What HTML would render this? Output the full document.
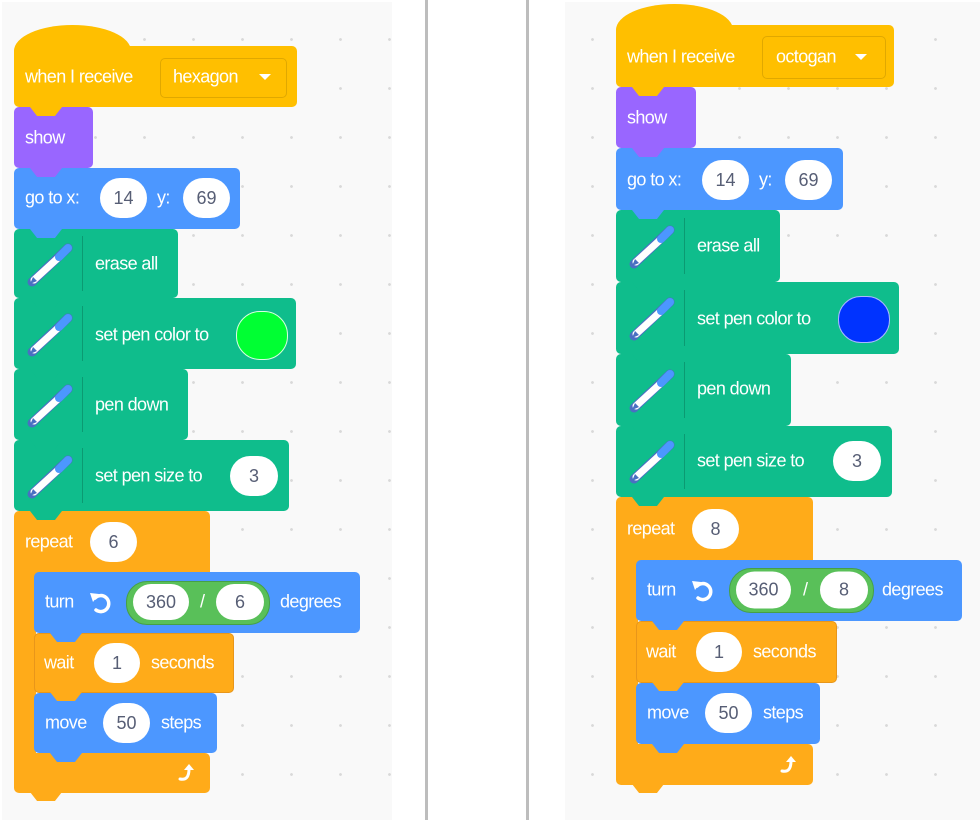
<!DOCTYPE html>
<html><head><meta charset="utf-8"><style>
html,body{margin:0;padding:0}
body{width:980px;height:820px;position:relative;overflow:hidden;background:#fff;font-family:"Liberation Sans",sans-serif}
.panel{position:absolute;background-color:#f9f9f9;background-image:radial-gradient(circle,#d9d9d9 1.2px,transparent 1.6px);background-size:49px 49px}
.vl{position:absolute;top:0;width:3px;height:820px;background:#bdbdbd}
.b{position:absolute;border-radius:5px}
.tab{position:absolute;width:32px;height:9px;clip-path:polygon(0 0,100% 0,78% 100%,22% 100%);z-index:3}
.t{position:absolute;color:#fff;font-size:18px;letter-spacing:-0.6px;transform:translateY(-50%);white-space:nowrap;z-index:4}
.o{position:absolute;background:#fff;border-radius:20px;height:40px;color:#575e75;text-align:center;line-height:40px;font-size:18px;transform:translateY(-50%);z-index:4}
.sep{position:absolute;width:1px;background:#0b9a72}
svg{z-index:4}
.Y{background:#ffbf00}.P{background:#9966ff}.B{background:#4c97ff}.G{background:#0fbd8c}.O{background:#ffab19}.GR{background:#59c059}
</style></head><body>
<div class="panel" style="left:2px;top:2px;width:390px;height:818px;background-position:20px 13px"></div>
<div class="vl" style="left:425px"></div>
<div class="vl" style="left:526px"></div>
<div class="panel" style="left:565px;top:2px;width:415px;height:818px;background-position:3px 13px"></div>

<svg width="0" height="0" style="position:absolute">
<defs>
<g id="pen"><line x1="8" y1="42" x2="44" y2="8" stroke="#4a6fc2" stroke-width="9" stroke-linecap="round"/><line x1="10" y1="40" x2="34" y2="18" stroke="#fff" stroke-width="7" stroke-linecap="round"/><line x1="35" y1="17" x2="44" y2="8" stroke="#4c97ff" stroke-width="8" stroke-linecap="round"/><path d="M6 44 L9 37 L13 41 Z" fill="#4a6fc2"/></g>
<g id="turn"><path d="M7 8 A8 8 0 1 1 8 20" fill="none" stroke="#fff" stroke-width="3.5" stroke-linecap="round"/><path d="M2 3 L11 4 L5 12 Z" fill="#fff"/></g>
<g id="loop"><path d="M3 16 Q12 18 12 6" fill="none" stroke="#fff" stroke-width="3" stroke-linecap="round"/><path d="M7 7 L12 1 L17 7 Z" fill="#fff"/></g>
</defs></svg>

<!-- ================= LEFT ================= -->
<div class="b Y" style="left:14px;top:25px;width:117px;height:60px;border-radius:58px 58px 0 0/26px 26px 0 0"></div>
<div class="b Y" style="left:14px;top:46px;width:283px;height:61px"></div>
<div class="tab Y" style="left:30px;top:107px"></div>
<div class="t" style="left:25px;top:77px">when I receive</div>
<div class="b" style="left:160px;top:58px;width:125px;height:38px;border:1px solid #e0a800;border-radius:5px"></div>
<div class="t" style="left:173px;top:77px">hexagon</div>
<svg style="position:absolute;left:259px;top:73px" width="12" height="8"><path d="M0 1 L12 1 L6 7 Z" fill="#fff"/></svg>

<div class="b P" style="left:14px;top:107px;width:79px;height:61px"></div>
<div class="tab P" style="left:30px;top:168px"></div>
<div class="t" style="left:25px;top:138px">show</div>

<div class="b B" style="left:14px;top:168px;width:226px;height:61px"></div>
<div class="tab B" style="left:30px;top:229px"></div>
<div class="t" style="left:25px;top:198px">go to x:</div>
<div class="o" style="left:100px;top:198px;width:47px">14</div>
<div class="t" style="left:157px;top:198px">y:</div>
<div class="o" style="left:183px;top:198px;width:47px">69</div>

<div class="b G" style="left:14px;top:229px;width:164px;height:69px"></div>
<div class="tab G" style="left:30px;top:298px"></div>
<div class="sep" style="left:82px;top:236px;height:55px"></div>
<svg style="position:absolute;left:24px;top:240px" width="50" height="50"><use href="#pen"/></svg>
<div class="t" style="left:95px;top:264px">erase all</div>

<div class="b G" style="left:14px;top:298px;width:282px;height:71px"></div>
<div class="tab G" style="left:30px;top:369px"></div>
<div class="sep" style="left:82px;top:306px;height:55px"></div>
<svg style="position:absolute;left:24px;top:310px" width="50" height="50"><use href="#pen"/></svg>
<div class="t" style="left:95px;top:335px">set pen color to</div>
<div class="b" style="left:236px;top:311px;width:50px;height:47px;border-radius:24px;background:#00ff33;border:1px solid #d8ffe0"></div>

<div class="b G" style="left:14px;top:369px;width:174px;height:71px"></div>
<div class="tab G" style="left:30px;top:440px"></div>
<div class="sep" style="left:82px;top:377px;height:55px"></div>
<svg style="position:absolute;left:24px;top:381px" width="50" height="50"><use href="#pen"/></svg>
<div class="t" style="left:95px;top:405px">pen down</div>

<div class="b G" style="left:14px;top:440px;width:275px;height:71px"></div>
<div class="tab G" style="left:30px;top:511px"></div>
<div class="sep" style="left:82px;top:448px;height:55px"></div>
<svg style="position:absolute;left:24px;top:452px" width="50" height="50"><use href="#pen"/></svg>
<div class="t" style="left:95px;top:476px">set pen size to</div>
<div class="o" style="left:230px;top:476px;width:48px">3</div>

<div class="b O" style="left:14px;top:511px;width:196px;height:66px"></div>
<div class="b O" style="left:14px;top:560px;width:22px;height:200px;border-radius:0"></div>
<div class="b O" style="left:14px;top:753px;width:196px;height:40px"></div>
<div class="tab O" style="left:30px;top:792px"></div>
<div class="t" style="left:25px;top:542px">repeat</div>
<div class="o" style="left:90px;top:542px;width:47px">6</div>
<svg style="position:absolute;left:177px;top:763px" width="20" height="20"><use href="#loop"/></svg>

<div class="b B" style="left:34px;top:572px;width:326px;height:61px"></div>
<div class="tab B" style="left:50px;top:633px"></div>
<div class="t" style="left:45px;top:602px">turn</div>
<svg style="position:absolute;left:88px;top:590px" width="26" height="26"><use href="#turn"/></svg>
<div class="b GR" style="left:126px;top:581px;width:142px;height:42px;border-radius:21px;border:1px solid #46a046"></div>
<div class="o" style="left:133px;top:602px;width:56px;height:36px;line-height:36px">360</div>
<div class="t" style="left:200px;top:602px">/</div>
<div class="o" style="left:216px;top:602px;width:48px;height:36px;line-height:36px">6</div>
<div class="t" style="left:280px;top:602px">degrees</div>

<div class="b O" style="left:34px;top:633px;width:200px;height:60px;border:1px solid #e8961a;box-sizing:border-box"></div>
<div class="tab O" style="left:50px;top:692px"></div>
<div class="t" style="left:44px;top:663px">wait</div>
<div class="o" style="left:94px;top:663px;width:46px">1</div>
<div class="t" style="left:151px;top:663px">seconds</div>

<div class="b B" style="left:34px;top:693px;width:183px;height:60px"></div>
<div class="tab B" style="left:50px;top:753px"></div>
<div class="t" style="left:45px;top:723px">move</div>
<div class="o" style="left:103px;top:723px;width:47px">50</div>
<div class="t" style="left:161px;top:723px">steps</div>

<!-- ================= RIGHT ================= -->
<div class="b Y" style="left:616px;top:4px;width:117px;height:60px;border-radius:58px 58px 0 0/26px 26px 0 0"></div>
<div class="b Y" style="left:616px;top:25px;width:278px;height:62px"></div>
<div class="tab Y" style="left:632px;top:87px"></div>
<div class="t" style="left:627px;top:57px">when I receive</div>
<div class="b" style="left:762px;top:36px;width:122px;height:41px;border:1px solid #e0a800;border-radius:5px"></div>
<div class="t" style="left:776px;top:57px">octogan</div>
<svg style="position:absolute;left:855px;top:53px" width="12" height="8"><path d="M0 1 L12 1 L6 7 Z" fill="#fff"/></svg>

<div class="b P" style="left:616px;top:87px;width:80px;height:61px"></div>
<div class="tab P" style="left:632px;top:148px"></div>
<div class="t" style="left:627px;top:118px">show</div>

<div class="b B" style="left:616px;top:148px;width:227px;height:62px"></div>
<div class="tab B" style="left:632px;top:210px"></div>
<div class="t" style="left:627px;top:180px">go to x:</div>
<div class="o" style="left:702px;top:180px;width:47px">14</div>
<div class="t" style="left:759px;top:180px">y:</div>
<div class="o" style="left:785px;top:180px;width:47px">69</div>

<div class="b G" style="left:616px;top:210px;width:164px;height:72px"></div>
<div class="tab G" style="left:632px;top:282px"></div>
<div class="sep" style="left:684px;top:218px;height:56px"></div>
<svg style="position:absolute;left:626px;top:222px" width="50" height="50"><use href="#pen"/></svg>
<div class="t" style="left:697px;top:246px">erase all</div>

<div class="b G" style="left:616px;top:282px;width:283px;height:72px"></div>
<div class="tab G" style="left:632px;top:354px"></div>
<div class="sep" style="left:684px;top:290px;height:56px"></div>
<svg style="position:absolute;left:626px;top:294px" width="50" height="50"><use href="#pen"/></svg>
<div class="t" style="left:697px;top:319px">set pen color to</div>
<div class="b" style="left:838px;top:296px;width:50px;height:45px;border-radius:23px;background:#0033ff;border:1px solid #aab8ff"></div>

<div class="b G" style="left:616px;top:354px;width:175px;height:72px"></div>
<div class="tab G" style="left:632px;top:426px"></div>
<div class="sep" style="left:684px;top:362px;height:56px"></div>
<svg style="position:absolute;left:626px;top:366px" width="50" height="50"><use href="#pen"/></svg>
<div class="t" style="left:697px;top:389px">pen down</div>

<div class="b G" style="left:616px;top:426px;width:276px;height:71px"></div>
<div class="tab G" style="left:632px;top:497px"></div>
<div class="sep" style="left:684px;top:434px;height:55px"></div>
<svg style="position:absolute;left:626px;top:437px" width="50" height="50"><use href="#pen"/></svg>
<div class="t" style="left:697px;top:461px">set pen size to</div>
<div class="o" style="left:833px;top:461px;width:48px">3</div>

<div class="b O" style="left:616px;top:497px;width:197px;height:68px"></div>
<div class="b O" style="left:616px;top:550px;width:22px;height:200px;border-radius:0"></div>
<div class="b O" style="left:616px;top:744px;width:197px;height:41px"></div>
<div class="tab O" style="left:632px;top:784px"></div>
<div class="t" style="left:627px;top:529px">repeat</div>
<div class="o" style="left:692px;top:529px;width:47px">8</div>
<svg style="position:absolute;left:779px;top:755px" width="20" height="20"><use href="#loop"/></svg>

<div class="b B" style="left:636px;top:560px;width:326px;height:61px"></div>
<div class="tab B" style="left:652px;top:621px"></div>
<div class="t" style="left:647px;top:590px">turn</div>
<svg style="position:absolute;left:690px;top:578px" width="26" height="26"><use href="#turn"/></svg>
<div class="b GR" style="left:729px;top:568px;width:143px;height:43px;border-radius:22px;border:1px solid #46a046"></div>
<div class="o" style="left:736px;top:590px;width:55px;height:37px;line-height:37px">360</div>
<div class="t" style="left:803px;top:590px">/</div>
<div class="o" style="left:820px;top:590px;width:48px;height:37px;line-height:37px">8</div>
<div class="t" style="left:882px;top:590px">degrees</div>

<div class="b O" style="left:636px;top:621px;width:201px;height:62px;border:1px solid #e8961a;box-sizing:border-box"></div>
<div class="tab O" style="left:652px;top:682px"></div>
<div class="t" style="left:646px;top:652px">wait</div>
<div class="o" style="left:696px;top:652px;width:46px">1</div>
<div class="t" style="left:753px;top:652px">seconds</div>

<div class="b B" style="left:636px;top:683px;width:184px;height:61px"></div>
<div class="tab B" style="left:652px;top:744px"></div>
<div class="t" style="left:647px;top:713px">move</div>
<div class="o" style="left:705px;top:713px;width:47px">50</div>
<div class="t" style="left:763px;top:713px">steps</div>
</body></html>
